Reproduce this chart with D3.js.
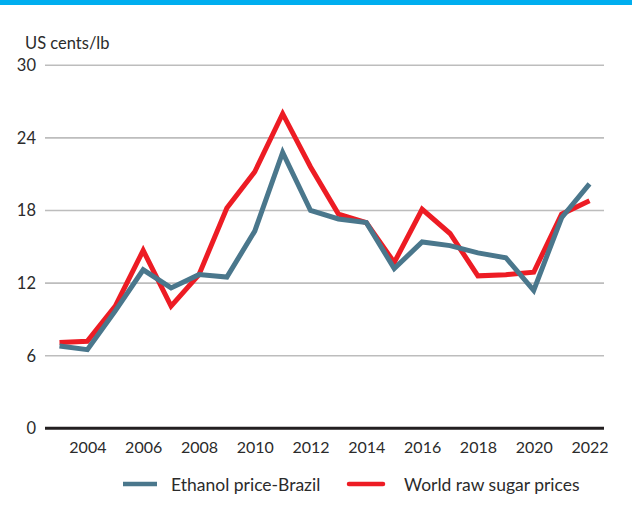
<!DOCTYPE html>
<html>
<head>
<meta charset="utf-8">
<script src="https://cdn.jsdelivr.net/npm/d3@7"></script>
<style>
  html, body { margin: 0; padding: 0; background: #fff; }
  svg { display: block; font-family: Lato, "Open Sans", sans-serif; }
</style>
</head>
<body>
<svg id="chart" width="632" height="523"></svg>
<script>
// Annual prices, US cents per pound
const years = d3.range(2003, 2023);
const ethanolBrazil = [6.8, 6.5, 9.7, 13.1, 11.6, 12.7, 12.5, 16.3, 22.8, 18.0,
                       17.3, 17.0, 13.2, 15.4, 15.1, 14.5, 14.1, 11.4, 17.4, 20.2];
const rawSugar = [7.1, 7.2, 10.1, 14.7, 10.1, 12.7, 18.2, 21.2, 26.0, 21.6,
                  17.7, 17.0, 13.7, 18.1, 16.1, 12.6, 12.7, 12.9, 17.7, 18.8];
const yTicks = [0, 6, 12, 18, 24, 30];
const xTicks = [2004, 2006, 2008, 2010, 2012, 2014, 2016, 2018, 2020, 2022];
const seriesNames = ["Ethanol price-Brazil", "World raw sugar prices"];

const svg = d3.select("#chart");
const textColor = "#2b2b2b";
const blue = "#4a778c";
const red = "#ed1c24";

// banner strip along the top edge
svg.append("rect").attr("x", 0).attr("y", 0).attr("width", 632).attr("height", 5)
  .attr("fill", "#00aeef");

const x = d3.scaleLinear().domain([2003, 2022]).range([59.5, 589.5]);
const y = d3.scaleLinear().domain([0, 30]).range([428.3, 65.3]);
const gridLeft = 45, gridRight = 604;

// horizontal gridlines
svg.append("g").selectAll("line").data(yTicks.filter(d => d !== 0)).join("line")
  .attr("x1", gridLeft).attr("x2", gridRight)
  .attr("y1", d => y(d)).attr("y2", d => y(d))
  .attr("stroke", "#bdbdbd").attr("stroke-width", 1.6);

// y tick labels
svg.append("g").selectAll("text").data(yTicks).join("text")
  .attr("x", 36).attr("y", d => y(d)).attr("dy", "0.36em")
  .attr("text-anchor", "end").attr("font-size", 16.5).attr("fill", textColor)
  .text(d => d);

// unit label
svg.append("text").attr("x", 25).attr("y", 49).attr("font-size", 16.5)
  .attr("fill", textColor).text("US cents/lb");

// x axis labels
const xAxis = d3.axisBottom(x).tickValues(xTicks).tickFormat(d3.format("d")).tickSize(0).tickPadding(0);
const gx = svg.append("g").attr("transform", "translate(0,441)").call(xAxis);
gx.select(".domain").remove();
gx.selectAll("text").attr("font-size", 16).attr("fill", textColor)
  .attr("font-family", "Lato, 'Open Sans', sans-serif").attr("dy", "0.72em");

// series lines
const line = d3.line().x((d, i) => x(years[i])).y(d => y(d));
svg.append("path").datum(rawSugar).attr("d", line)
  .attr("fill", "none").attr("stroke", red).attr("stroke-width", 5)
  .attr("stroke-linejoin", "miter");
svg.append("path").datum(ethanolBrazil).attr("d", line)
  .attr("fill", "none").attr("stroke", blue).attr("stroke-width", 5)
  .attr("stroke-linejoin", "miter");

// zero baseline
svg.append("line").attr("x1", gridLeft).attr("x2", gridRight)
  .attr("y1", y(0)).attr("y2", y(0)).attr("stroke", "#231f20").attr("stroke-width", 3);

// legend
const legend = [
  { name: seriesNames[0], color: blue, x0: 123, x1: 157, tx: 171, cap: "butt" },
  { name: seriesNames[1], color: red, x0: 349, x1: 383, tx: 404, cap: "round" }
];
const lg = svg.append("g");
lg.selectAll("line").data(legend).join("line")
  .attr("x1", d => d.x0).attr("x2", d => d.x1).attr("y1", 484).attr("y2", 484)
  .attr("stroke", d => d.color).attr("stroke-width", 4.5).attr("stroke-linecap", d => d.cap);
lg.selectAll("text").data(legend).join("text")
  .attr("x", d => d.tx).attr("y", 490.5).attr("font-size", 17.5).attr("fill", textColor)
  .text(d => d.name);
</script>
</body>
</html>
